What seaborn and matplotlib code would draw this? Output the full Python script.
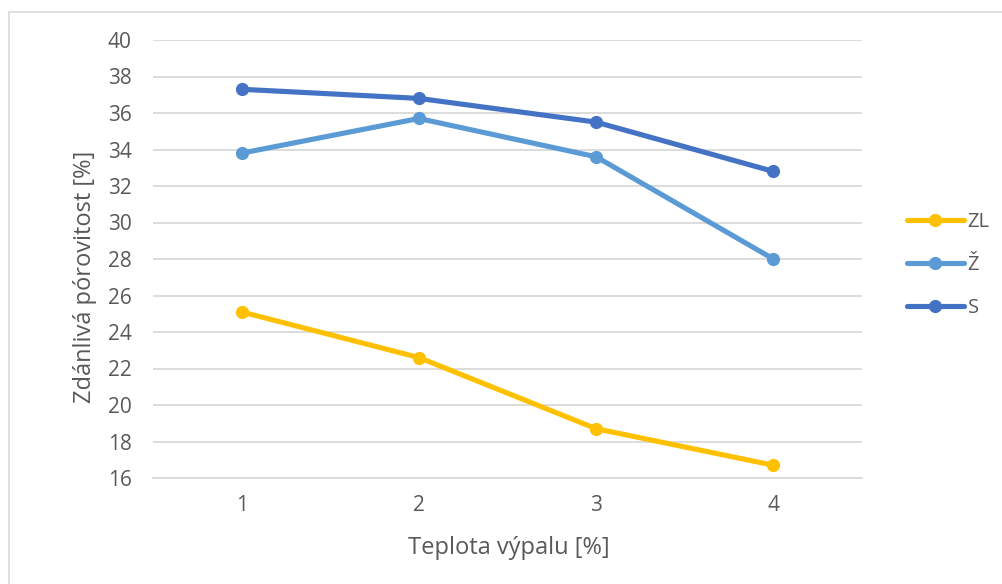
import numpy as np
import pandas as pd
import matplotlib
matplotlib.use("Agg")
import matplotlib.pyplot as plt
import seaborn as sns
from matplotlib.lines import Line2D

# Data
teplota = [1, 2, 3, 4]
zl = [25.1, 22.6, 18.7, 16.7]
z = [33.8, 35.7, 33.6, 28.0]
s = [37.3, 36.8, 35.5, 32.8]
series_names = ["ZL", "Ž", "S"]
colors = ["#FFC000", "#5B9BD5", "#4472C4"]
y_ticks = list(range(16, 41, 2))

df = pd.DataFrame({
    "x": teplota * 3,
    "y": zl + z + s,
    "serie": [series_names[0]] * 4 + [series_names[1]] * 4 + [series_names[2]] * 4,
})

sns.set_theme(style="white")
plt.rcParams["font.family"] = ["Open Sans", "DejaVu Sans"]
text_color = "#595959"

W, H = 1002, 584
fig = plt.figure(figsize=(W / 100, H / 100), dpi=100)
ax = fig.add_axes([153 / W, 1 - 478 / H, (862 - 153) / W, (478 - 40) / H])

sns.lineplot(
    data=df, x="x", y="y", hue="serie", hue_order=series_names,
    palette=dict(zip(series_names, colors)), style="serie",
    markers={n: "o" for n in series_names}, dashes=False,
    linewidth=3.7, markersize=9.5, markeredgewidth=0, ax=ax, legend=True,
)

ax.set_xlim(0.5, 4.5)
ax.set_ylim(16, 40)
ax.set_yticks(y_ticks)
ax.set_xticks(teplota)
ax.grid(axis="y", color="#D9D9D9", linewidth=1.3)
ax.set_axisbelow(True)
for sp in ["top", "right", "left"]:
    ax.spines[sp].set_visible(False)
ax.spines["bottom"].set_color("#D9D9D9")
ax.spines["bottom"].set_linewidth(1.3)
ax.tick_params(axis="both", length=0, labelsize=15, colors=text_color)
ax.tick_params(axis="y", pad=15.5)
ax.tick_params(axis="x", pad=12.5)

ax.set_xlabel("Teplota výpalu [%]", fontsize=17, color=text_color, va="center", ha="center")
ax.xaxis.set_label_coords((509 - 153) / 709, (478 - 548) / 438)
ax.set_ylabel("Zdánlivá pórovitost [%]", fontsize=17, color=text_color, va="center", ha="center")
ax.yaxis.set_label_coords((85 - 153) / 709, (478 - 277) / 438)

handles, labels = ax.get_legend_handles_labels()
ax.legend(
    handles, labels, loc="center left", bbox_to_anchor=(889 / W, 1 - 265 / H),
    bbox_transform=fig.transFigure, frameon=False, fontsize=14.5,
    handlelength=2.8, handletextpad=0.2, labelspacing=1.15, labelcolor=text_color,
)

# chart area border (top and left edges)
fig.add_artist(Line2D([9 / W, 1.0], [1 - 12 / H, 1 - 12 / H], transform=fig.transFigure,
                      color="#D9D9D9", linewidth=1.2))
fig.add_artist(Line2D([9 / W, 9 / W], [0.0, 1 - 12 / H], transform=fig.transFigure,
                      color="#D9D9D9", linewidth=1.2))

fig.savefig("out.png", dpi=100, facecolor="white")
